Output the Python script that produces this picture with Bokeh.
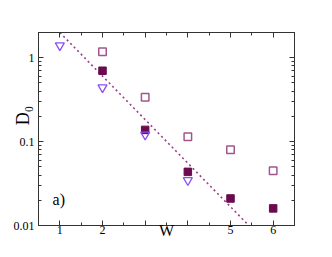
from bokeh.plotting import figure
from bokeh.models import (Range1d, LinearAxis, LogAxis, FixedTicker, Label,
                          CustomJSTickFormatter)
from bokeh.embed import file_html
from bokeh.resources import INLINE

# data
w_vals = [1, 2, 3, 4, 5, 6]
open_x = [2, 3, 4, 5, 6]
open_y = [1.18, 0.337, 0.114, 0.080, 0.045]
filled_x = [2, 3, 4, 5, 6]
filled_y = [0.70, 0.138, 0.0436, 0.021, 0.016]
tri_x = [1, 2, 3, 4]
tri_y = [1.40, 0.443, 0.121, 0.0346]
fit_x = [1.0, 5.43]
fit_y = [2.0, 0.01]
y_major = [0.01, 0.1, 1]

FONT = "Liberation Serif"
AX = "#333333"

p = figure(frame_width=256, frame_height=193, output_backend="svg",
           toolbar_location=None,
           x_range=Range1d(0.5, 6.5), y_range=Range1d(0.01, 2.0),
           y_axis_type="log", x_axis_location=None, y_axis_location=None,
           min_border_left=38, min_border_top=32, min_border_right=30,
           min_border_bottom=30)
p.xgrid.visible = False
p.ygrid.visible = False
p.outline_line_color = AX
p.background_fill_color = "white"
p.border_fill_color = "white"

x_minor = [0.5 + 0.5 * i for i in range(13)]
y_minor = [m * 10 ** e for e in (-2, -1, 0) for m in range(1, 10)] + [2.0]

def style(ax, show):
    ax.axis_line_color = AX
    ax.major_tick_line_color = AX
    ax.minor_tick_line_color = AX
    ax.major_tick_in = 5
    ax.major_tick_out = 0
    ax.minor_tick_in = 3
    ax.minor_tick_out = 0
    ax.major_label_text_font = FONT
    ax.major_label_text_font_size = "12px"
    ax.major_label_text_color = "black"
    ax.major_label_standoff = 3
    ax.axis_label_text_font = FONT
    ax.axis_label_text_font_style = "normal"
    ax.axis_label_text_color = "black"
    if not show:
        ax.formatter = CustomJSTickFormatter(code="return ''")

bottom = LinearAxis(ticker=FixedTicker(ticks=w_vals, minor_ticks=x_minor))
bottom.formatter = CustomJSTickFormatter(code="return (tick==3||tick==4) ? '' : tick.toString()")
style(bottom, True)
bottom.major_label_standoff = 0
bottom.axis_label = "W"
bottom.axis_label_text_font_size = "16px"
bottom.axis_label_standoff = -15
top = LinearAxis(ticker=FixedTicker(ticks=w_vals, minor_ticks=x_minor))
style(top, False)
left = LogAxis(ticker=FixedTicker(ticks=y_major, minor_ticks=y_minor))
left.formatter = CustomJSTickFormatter(code="return tick.toString()")
style(left, True)
left.major_label_standoff = 4
left.axis_label = "\u00a0" * 6 + "D₀"
left.axis_label_text_font_size = "18px"
left.axis_label_standoff = -22
right = LogAxis(ticker=FixedTicker(ticks=y_major, minor_ticks=y_minor))
style(right, False)

p.add_layout(bottom, "below")
p.add_layout(top, "above")
p.add_layout(left, "left")
p.add_layout(right, "right")

p.line(fit_x, fit_y, line_color="#9b3d8c", line_width=1.6, line_dash="2 3")
p.scatter(open_x, open_y, marker="square", size=7.5, fill_color=None,
          line_color="#a0568f", line_width=1.5)
p.scatter(filled_x, filled_y, marker="square", size=7.5, fill_color="#6b0a4f",
          line_color="#6b0a4f")
p.scatter(tri_x, tri_y, marker="inverted_triangle", size=9, fill_color=None,
          line_color="#8a50f0", line_width=1.3)

p.add_layout(Label(x=0.83, y=0.0205, text="a)", text_font=FONT,
                   text_font_size="16px", text_align="left",
                   text_baseline="middle", text_color="black"))

open("out.html", "w").write(file_html(p, INLINE))
